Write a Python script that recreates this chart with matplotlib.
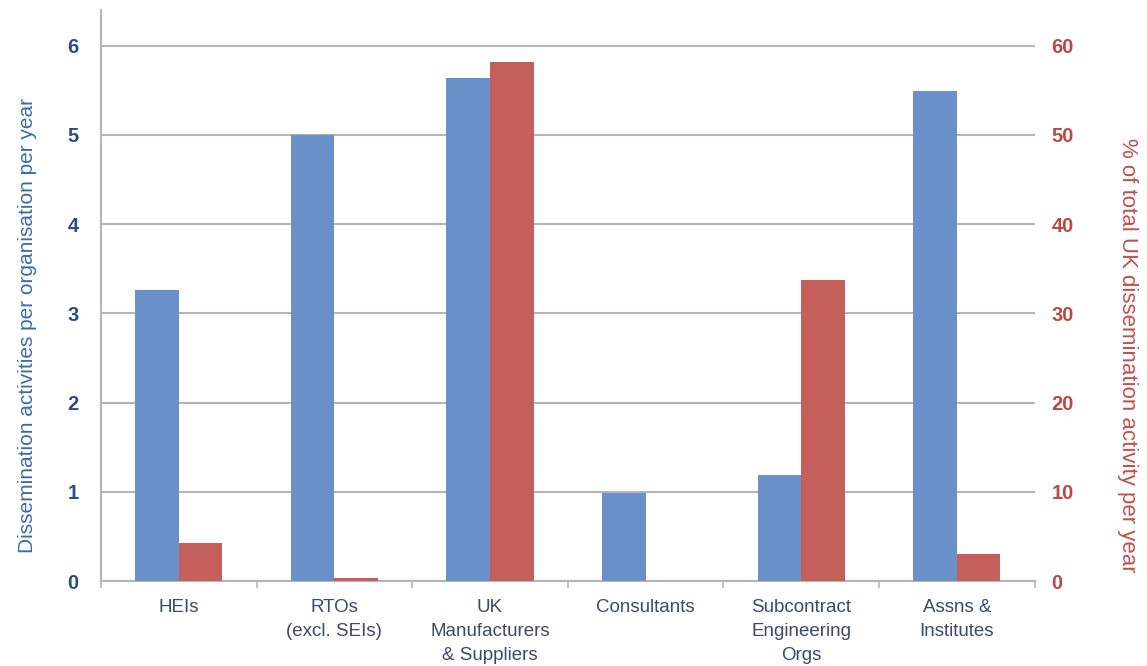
import matplotlib.pyplot as plt
import numpy as np

plt.rcParams['font.family'] = ['Liberation Sans', 'DejaVu Sans']

categories = ["HEIs", "RTOs\n(excl. SEIs)", "UK\nManufacturers\n& Suppliers",
              "Consultants", "Subcontract\nEngineering\nOrgs", "Assns &\nInstitutes"]
per_org = [3.26, 5.0, 5.64, 0.99, 1.19, 5.49]        # activities per organisation per year
pct_total = [4.3, 0.3, 58.2, 0.0, 33.7, 3.0]         # % of total UK activity per year

blue = "#6990c8"
red = "#c55f5b"
grid_c = "#b5b5b5"

fig = plt.figure(figsize=(11.47, 6.66), dpi=100)
ax = fig.add_axes([0.088, 0.1276, 0.814, 0.8574])
ax2 = ax.twinx()

x = np.arange(len(categories))
w = 0.28
ax.bar(x - w / 2, per_org, width=w, color=blue, zorder=3)
ax2.bar(x + w / 2, pct_total, width=w, color=red, zorder=3)

ax.set_xlim(-0.5, len(categories) - 0.5)
ax.set_ylim(0, 6.4)
ax2.set_ylim(0, 64)
ax.set_yticks(range(0, 7))
ax2.set_yticks(range(0, 61, 10))

ax.grid(axis='y', color=grid_c, linewidth=1.5, zorder=0)
ax.set_axisbelow(True)
ax2.set_zorder(ax.get_zorder() + 1)
ax2.patch.set_visible(False)

for a in (ax, ax2):
    for s in ("top", "right"):
        a.spines[s].set_visible(False)
ax2.spines["left"].set_visible(False)
ax2.spines["bottom"].set_visible(False)
ax.spines["left"].set_color(grid_c)
ax.spines["left"].set_linewidth(1.5)
ax.spines["bottom"].set_color(grid_c)
ax.spines["bottom"].set_linewidth(1.5)

# category labels at the centres, tick marks at the group boundaries
ax.set_xticks(x)
ax.set_xticklabels(categories, fontsize=13.5, color="#3b4a68", linespacing=1.55)
ax.tick_params(axis='x', which='major', length=0, pad=13)
ax.set_xticks(np.arange(-0.5, len(categories)), minor=True)
ax.tick_params(axis='x', which='minor', length=5, width=1.2, color=grid_c)

ax.tick_params(axis='y', length=0, pad=16, labelsize=14.5, labelcolor="#2e4c7c")
for t in ax.get_yticklabels():
    t.set_fontweight('bold')
ax2.tick_params(axis='y', length=0, pad=12, labelsize=14.5, labelcolor="#b84a46")
for t in ax2.get_yticklabels():
    t.set_fontweight('bold')

ax.set_ylabel("Dissemination activities per organisation per year",
              fontsize=15, color="#3d6aa8")
ax2.set_ylabel("% of total UK dissemination activity per year",
               fontsize=16, color="#c0504d", rotation=270, va='bottom')
ax.yaxis.set_label_coords(-0.068, 0.448)
ax2.yaxis.set_label_coords(1.088, 0.396)

fig.savefig("out.png", dpi=100)
